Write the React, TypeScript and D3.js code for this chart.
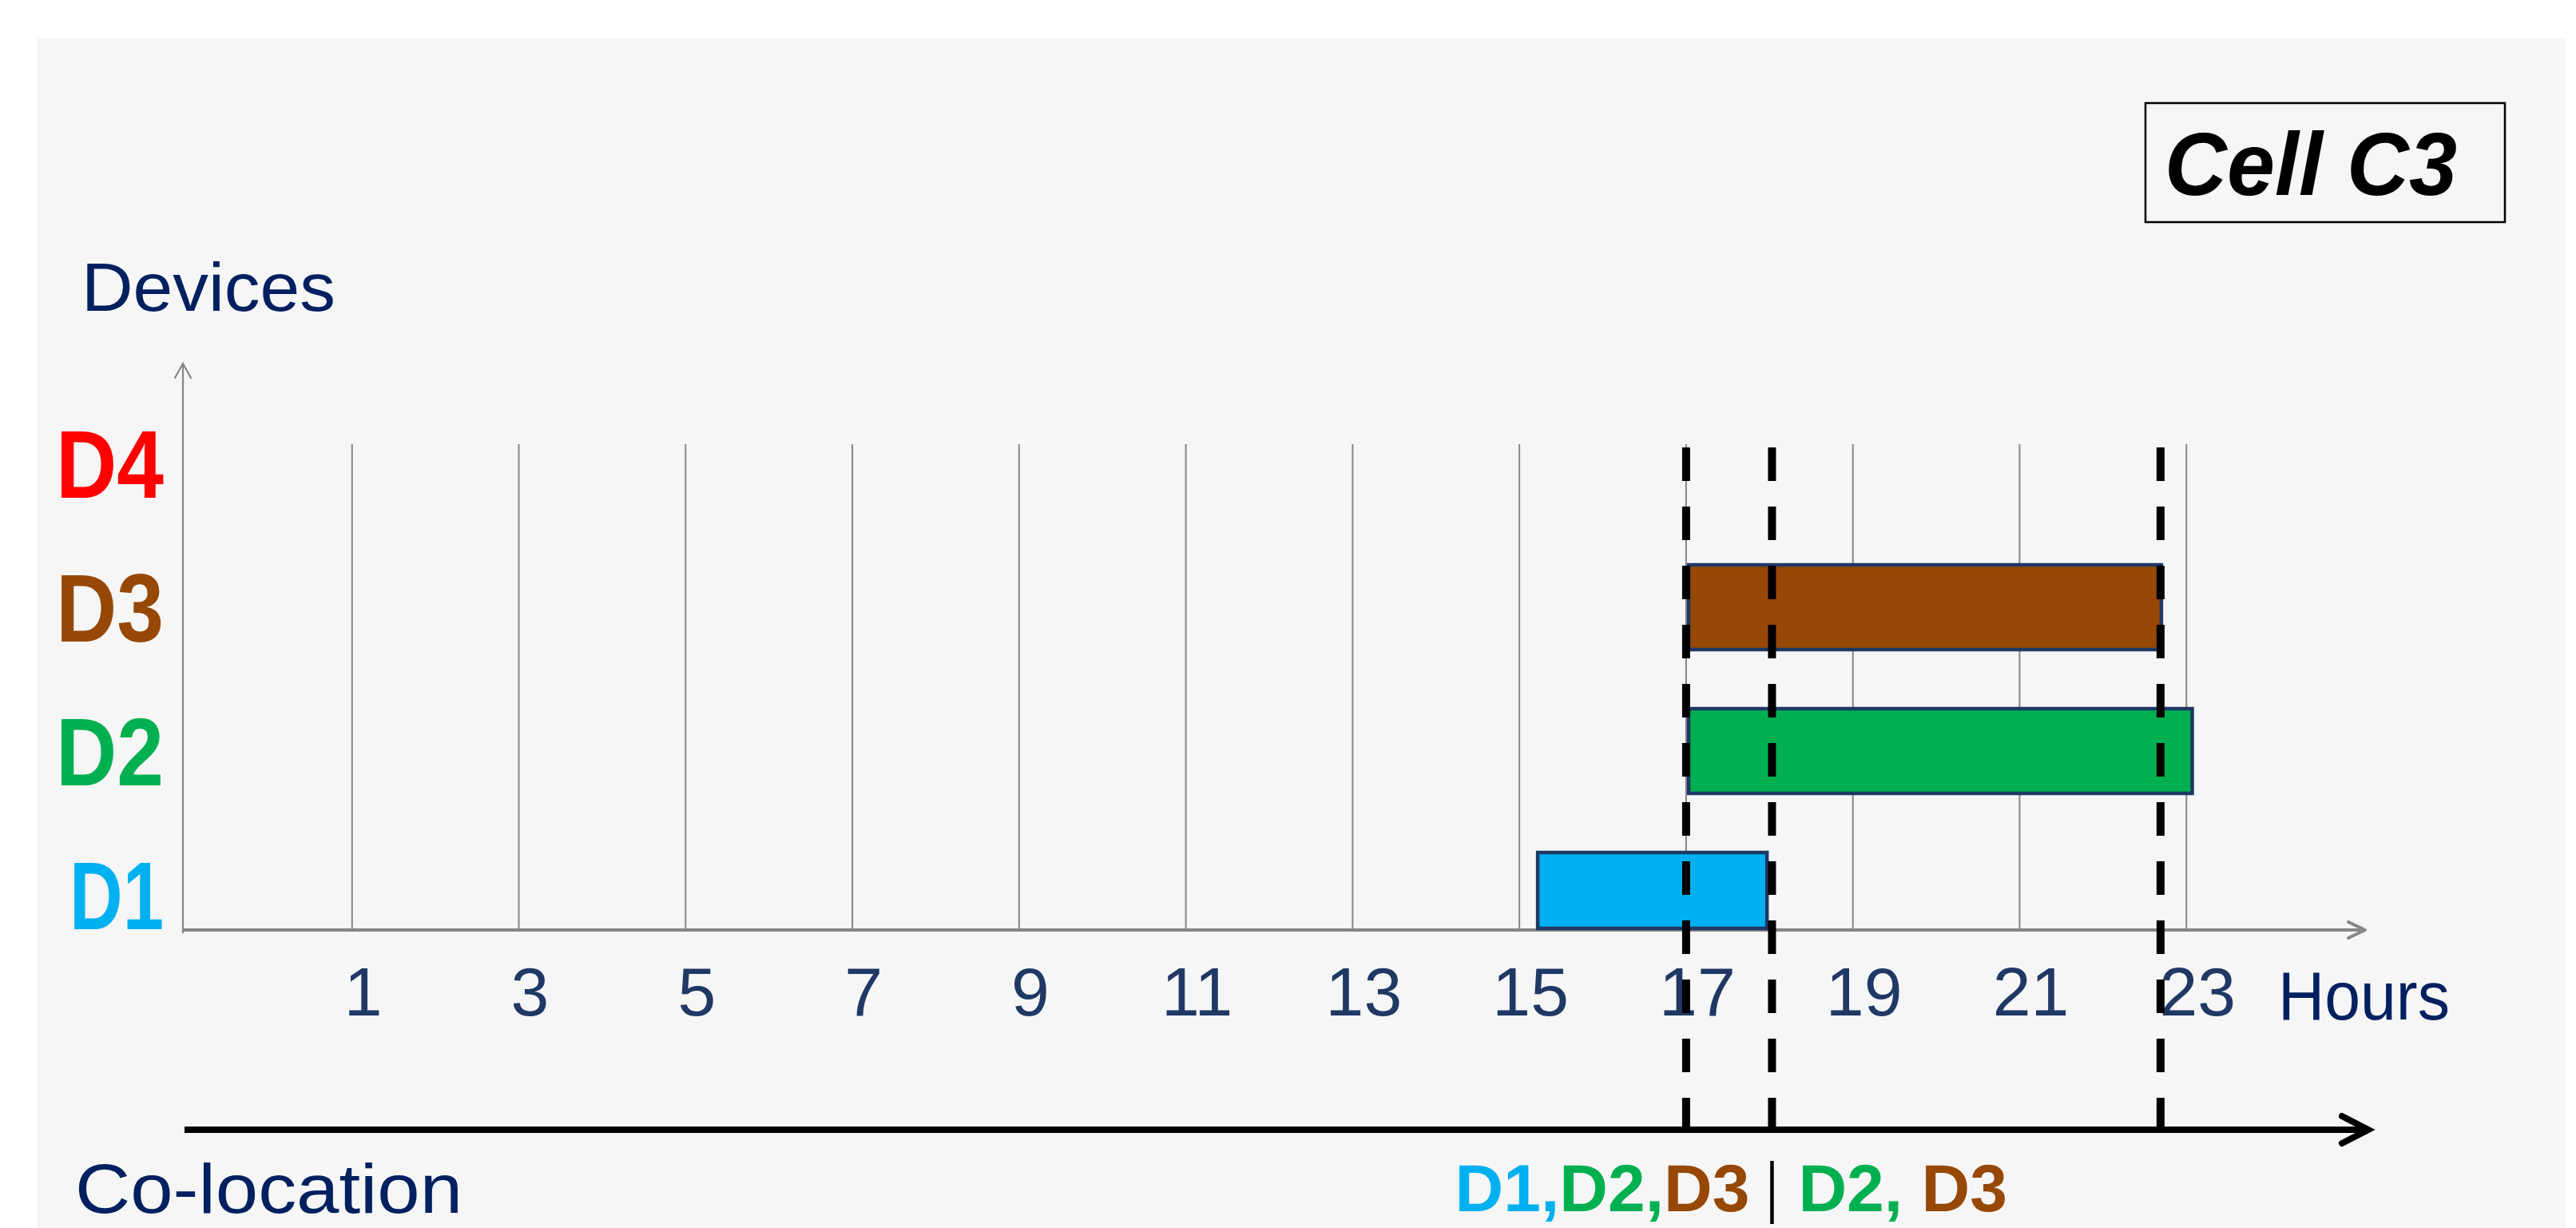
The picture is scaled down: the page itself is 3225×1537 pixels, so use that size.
import React from "react";
import * as d3 from "d3";

// ---- data ----
const devices = ["D1", "D2", "D3", "D4"];
const deviceColors = ["#00b0f0", "#00b050", "#974806", "#ff0000"];
const startHours: (number | null)[] = [15.22, 17.03, 17.03, null];
const endHours: (number | null)[] = [17.97, 23.07, 22.7, null];
const hourTicks = [1, 3, 5, 7, 9, 11, 13, 15, 17, 19, 21, 23];
const colocationBounds = [17.0, 18.03, 22.69];
const colocationGroups = [
  ["D1", "D2", "D3"],
  ["D2", "D3"],
];
const cellTitle = "Cell C3";

const W = 3225;
const H = 1537;
const NAVY = "#002060";
const TICKNAVY = "#1f3864";
const GRAY = "#868686";
const FONT = "'Liberation Sans', Arial, sans-serif";

export default function App() {
  const x = d3.scaleLinear().domain([-1, 25]).range([232, 2946]);
  const y = d3.scalePoint<string>().domain(devices).range([1120, 580]);
  const axisY = 1164;
  const axisX = 229;
  const barHalf = 53;
  const colY = 1414;
  const colorOf = (d: string) => deviceColors[devices.indexOf(d)];

  const bars = devices
    .map((d, i) => ({ d, s: startHours[i], e: endHours[i], c: deviceColors[i] }))
    .filter((b) => b.s !== null && b.e !== null);

  const sep = x(colocationBounds[1]);

  const renderGroup = (grp: string[], withSpace: boolean) =>
    grp.map((d, i) => (
      <tspan key={d + i} fill={colorOf(d)}>
        {d + (i < grp.length - 1 ? (withSpace ? ", " : ",") : "")}
      </tspan>
    ));

  return (
    <svg
      width={W}
      height={H}
      style={{ position: "absolute", left: 0, top: 0, background: "#ffffff" }}
      xmlns="http://www.w3.org/2000/svg"
    >
      <rect x={47} y={48} width={3165} height={H - 48} fill="#f6f6f6" />

      {/* Cell title box */}
      <rect x={2686} y={129} width={450} height={149} fill="none" stroke="#000" strokeWidth={2.5} />
      <text
        x={2710}
        y={244}
        fontFamily={FONT}
        fontWeight="bold"
        fontStyle="italic"
        fontSize={111}
        fill="#000"
        textLength={366}
        lengthAdjust="spacingAndGlyphs"
      >
        {cellTitle}
      </text>

      {/* Devices label */}
      <text x={102} y={389} fontFamily={FONT} fontSize={85} fill={NAVY} textLength={318} lengthAdjust="spacingAndGlyphs">
        Devices
      </text>

      {/* gridlines */}
      {hourTicks.map((h) => (
        <line key={"g" + h} x1={x(h)} x2={x(h)} y1={556} y2={axisY - 2} stroke={GRAY} strokeWidth={2} />
      ))}

      {/* y axis */}
      <line x1={axisX} x2={axisX} y1={456} y2={axisY + 4} stroke={GRAY} strokeWidth={2.2} />
      <polyline
        points={`${axisX - 10},${473} ${axisX},${455} ${axisX + 10},${473}`}
        fill="none"
        stroke={GRAY}
        strokeWidth={2.2}
        strokeLinecap="round"
      />

      {/* x axis */}
      <line x1={axisX} x2={x(25) + 14} y1={axisY} y2={axisY} stroke={GRAY} strokeWidth={4} />
      <polyline
        points={`${x(25) - 6},${axisY - 10} ${x(25) + 15},${axisY} ${x(25) - 6},${axisY + 10}`}
        fill="none"
        stroke={GRAY}
        strokeWidth={4}
        strokeLinecap="round"
        strokeLinejoin="round"
      />

      {/* device labels */}
      {devices.map((d, i) => (
        <text
          key={"l" + d}
          x={205}
          y={(y(d) as number) + 43}
          textAnchor="end"
          fontFamily={FONT}
          fontWeight="bold"
          fontSize={121}
          fill={deviceColors[i]}
          textLength={d === "D1" ? 118 : 135}
          lengthAdjust="spacingAndGlyphs"
        >
          {d}
        </text>
      ))}

      {/* bars */}
      {bars.map((b) => {
        const cy = y(b.d) as number;
        const top = cy - barHalf;
        const bottom = Math.min(cy + barHalf, axisY - 2);
        return (
          <rect
            key={"b" + b.d}
            x={x(b.s as number)}
            y={top}
            width={x(b.e as number) - x(b.s as number)}
            height={bottom - top}
            fill={b.c}
            stroke="#1f3864"
            strokeWidth={4.5}
          />
        );
      })}

      {/* tick labels */}
      {hourTicks.map((h) => (
        <text
          key={"t" + h}
          x={x(h) + 14}
          y={1271}
          textAnchor="middle"
          fontFamily={FONT}
          fontSize={86}
          fill={TICKNAVY}
        >
          {h}
        </text>
      ))}

      {/* Hours label */}
      <text x={2852} y={1276} fontFamily={FONT} fontSize={85} fill={NAVY} textLength={215} lengthAdjust="spacingAndGlyphs">
        Hours
      </text>

      {/* colocation arrow */}
      <line x1={231} x2={x(25) + 16} y1={colY} y2={colY} stroke="#000" strokeWidth={8} />
      <polyline
        points={`${x(25) - 14},${colY - 17} ${x(25) + 19},${colY} ${x(25) - 14},${colY + 17}`}
        fill="none"
        stroke="#000"
        strokeWidth={8}
        strokeLinecap="round"
        strokeLinejoin="miter"
      />

      {/* dashed co-location boundaries */}
      {colocationBounds.map((h) => (
        <line
          key={"d" + h}
          x1={x(h)}
          x2={x(h)}
          y1={560}
          y2={1420}
          stroke="#000"
          strokeWidth={10}
          strokeDasharray="42 32"
        />
      ))}

      {/* Co-location label */}
      <text x={94} y={1518} fontFamily={FONT} fontSize={87} fill={NAVY} textLength={485} lengthAdjust="spacingAndGlyphs">
        Co-location
      </text>

      {/* co-location groups */}
      <text
        x={sep - 28}
        y={1516}
        textAnchor="end"
        fontFamily={FONT}
        fontWeight="bold"
        fontSize={84}
      >
        {renderGroup(colocationGroups[0], false)}
      </text>
      <line x1={sep} x2={sep} y1={1453} y2={1532} stroke="#000" strokeWidth={4.5} />
      <text x={sep + 33} y={1516} fontFamily={FONT} fontWeight="bold" fontSize={84}>
        {renderGroup(colocationGroups[1], true)}
      </text>
    </svg>
  );
}
